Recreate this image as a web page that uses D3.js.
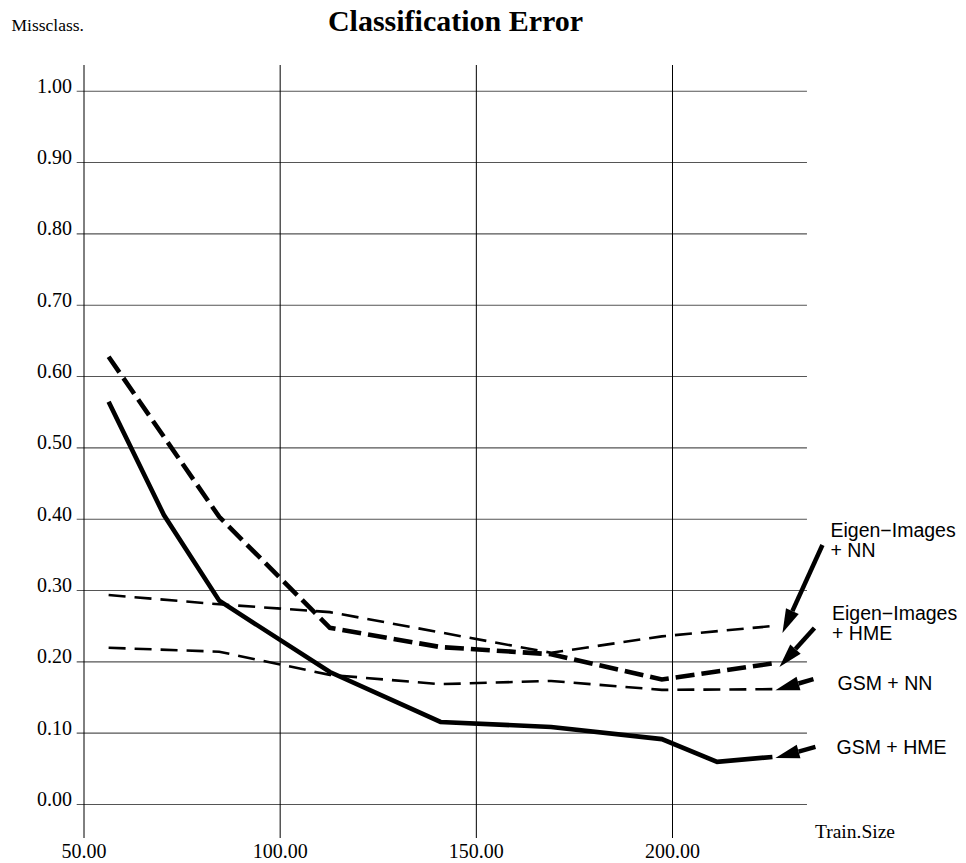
<!DOCTYPE html>
<html>
<head>
<meta charset="utf-8">
<script src="https://cdn.jsdelivr.net/npm/d3@7"></script>
<style>
  html, body { margin: 0; padding: 0; background: #fff; }
  svg { display: block; }
</style>
</head>
<body>
<svg id="chart" width="966" height="863"></svg>
<script>
// ---------- data ----------
const trainSizes = [56.4, 70.5, 84.6, 112.8, 141.0, 169.2, 197.4, 211.5, 225.6];

const gsmHmeX   = [56.4, 70.5, 84.6, 112.8, 141.0, 169.2, 197.4, 211.5, 225.6];
const gsmHmeY   = [0.564, 0.405, 0.285, 0.185, 0.115, 0.108, 0.091, 0.059, 0.066];

const gsmNnX    = [56.4, 84.6, 112.8, 141.0, 169.2, 197.4, 225.6];
const gsmNnY    = [0.219, 0.2135, 0.181, 0.168, 0.1725, 0.160, 0.161];

const eigenHmeX = [56.4, 84.6, 112.8, 141.0, 169.2, 197.4, 225.6];
const eigenHmeY = [0.627, 0.4025, 0.247, 0.220, 0.210, 0.1745, 0.197];

const eigenNnX  = [56.4, 84.6, 112.8, 169.2, 197.4, 225.6];
const eigenNnY  = [0.293, 0.280, 0.269, 0.212, 0.235, 0.2495];

const xTicks = [50, 100, 150, 200];
const xTickLabels = ["50.00", "100.00", "150.00", "200.00"];
const yTicks = [0, 0.1, 0.2, 0.3, 0.4, 0.5, 0.6, 0.7, 0.8, 0.9, 1.0];
const yTickLabels = ["0.00", "0.10", "0.20", "0.30", "0.40", "0.50", "0.60", "0.70", "0.80", "0.90", "1.00"];
const xAxisMax = 234.4;

const seriesNames = ["Eigen\u2212Images|+ NN", "Eigen\u2212Images|+ HME", "GSM + NN", "GSM + HME"];

// ---------- layout ----------
const svg = d3.select("#chart");
const x = d3.scaleLinear().domain([50, 200]).range([83.5, 672]);
const y = d3.scaleLinear().domain([0, 1]).range([804, 90.7]);
const gridLeft = 76.7, gridTop = 65, gridBottom = 838;
const serif = "'Liberation Serif', 'Times New Roman', Times, serif";
const sans = "'Liberation Sans', Arial, Helvetica, sans-serif";

// horizontal grid (y axis)
const yAxis = d3.axisLeft(y)
  .tickValues(yTicks)
  .tickFormat((d, i) => yTickLabels[i])
  .tickSize(-(x(xAxisMax) - gridLeft))
  .tickPadding(4.7);
const gy = svg.append("g").attr("transform", `translate(${gridLeft},0)`).call(yAxis);
gy.select(".domain").remove();
gy.selectAll(".tick line").attr("stroke", "#555").attr("stroke-width", 1.1);
gy.selectAll(".tick text")
  .attr("font-family", serif).attr("font-size", 20).attr("fill", "#000")
  .attr("dy", "0.08em");

// vertical grid (x axis)
const xAxis = d3.axisBottom(x)
  .tickValues(xTicks)
  .tickFormat((d, i) => xTickLabels[i])
  .tickSize(-(gridBottom - gridTop))
  .tickPadding(6);
const gx = svg.append("g").attr("transform", `translate(0,${gridBottom})`).call(xAxis);
gx.select(".domain").remove();
gx.selectAll(".tick line").attr("stroke", "#000").attr("stroke-width", 1);
gx.selectAll(".tick text")
  .attr("font-family", serif).attr("font-size", 20).attr("fill", "#000")
  .attr("y", 20).attr("dy", 0);

// titles
svg.append("text").attr("x", 455.5).attr("y", 31).attr("text-anchor", "middle")
  .attr("font-family", serif).attr("font-weight", "bold").attr("font-size", 30)
  .text("Classification Error");
svg.append("text").attr("x", 11.5).attr("y", 30.5)
  .attr("font-family", serif).attr("font-size", 17.5)
  .text("Missclass.");
svg.append("text").attr("x", 815).attr("y", 838)
  .attr("font-family", serif).attr("font-size", 19.5)
  .text("Train.Size");

// ---------- lines ----------
const line = d3.line().x(d => x(d[0])).y(d => y(d[1]));
const zip = (a, b) => a.map((v, i) => [v, b[i]]);

const series = [
  { xs: eigenNnX,  ys: eigenNnY,  w: 2.6, dash: "17,9",
    label: seriesNames[0], lx: 830.5, ly: 537, tip: [10, 7], tail: [40, -88] },
  { xs: eigenHmeX, ys: eigenHmeY, w: 4.6, dash: "19,7",
    label: seriesNames[1], lx: 832, ly: 619.5, tip: [7, 3.5], tail: [35, -39] },
  { xs: gsmNnX,    ys: gsmNnY,    w: 2.6, dash: "17,9",
    label: seriesNames[2], lx: 837.5, ly: 689.5, tip: [3, 1], tail: [38, -11] },
  { xs: gsmHmeX,   ys: gsmHmeY,   w: 4.6, dash: null,
    label: seriesNames[3], lx: 836.5, ly: 754, tip: [3, 1], tail: [40, -11] }
];

series.forEach(s => {
  const pts = zip(s.xs, s.ys);
  const p = svg.append("path").datum(pts)
    .attr("d", line)
    .attr("fill", "none").attr("stroke", "#000")
    .attr("stroke-width", s.w)
    .attr("stroke-linejoin", "miter");
  if (s.dash) p.attr("stroke-dasharray", s.dash);

  // arrow annotation pointing at the series end
  const last = pts[pts.length - 1];
  const tx = x(last[0]) + s.tip[0], ty = y(last[1]) + s.tip[1];
  const sx = tx + s.tail[0], sy = ty + s.tail[1];
  const L = Math.hypot(sx - tx, sy - ty);
  const ux = (sx - tx) / L, uy = (sy - ty) / L;
  const hl = 24, hw = 7;
  const bx = tx + ux * hl, by = ty + uy * hl;
  svg.append("line").attr("x1", sx).attr("y1", sy).attr("x2", bx).attr("y2", by)
    .attr("stroke", "#000").attr("stroke-width", 4.5);
  svg.append("path")
    .attr("d", `M${tx},${ty}L${bx - uy * hw},${by + ux * hw}L${bx + uy * hw},${by - ux * hw}Z`)
    .attr("fill", "#000");

  // label
  const lines = s.label.split("|");
  const t = svg.append("text").attr("font-family", sans).attr("font-size", 19.5).attr("fill", "#000");
  lines.forEach((ln, i) => {
    t.append("tspan").attr("x", s.lx).attr("y", s.ly + i * 20).text(ln);
  });
});
</script>
</body>
</html>
